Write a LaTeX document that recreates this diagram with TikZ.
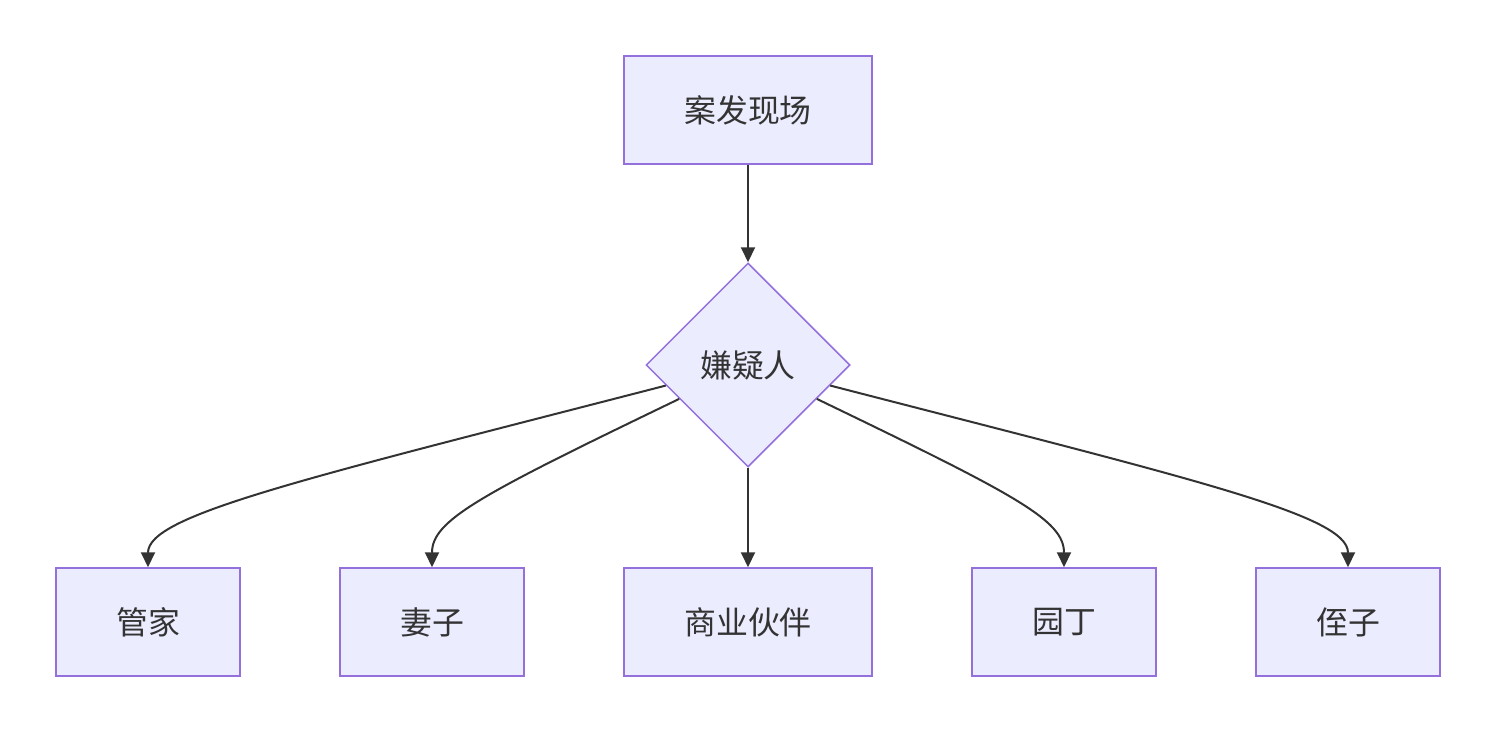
\documentclass[tikz,border=0pt]{standalone}
\usepackage{fontspec}
\newfontfamily\cjk{Noto Sans CJK SC}
\usetikzlibrary{shapes.geometric,arrows.meta,calc}
\definecolor{nodefill}{HTML}{ECECFF}
\definecolor{nodeline}{HTML}{9370DB}
\definecolor{edgecol}{HTML}{333333}
\begin{document}
\begin{tikzpicture}[x=1bp,y=-1bp,
  box/.style={draw=nodeline,fill=nodefill,line width=1.5bp,minimum height=108bp,inner sep=0pt,font=\cjk\fontsize{32}{38}\selectfont,text=edgecol},
  dia/.style={diamond,aspect=1,draw=nodeline,fill=nodefill,line width=1.5bp,minimum width=204bp,minimum height=204bp,inner sep=0pt,font=\cjk\fontsize{32}{38}\selectfont,text=edgecol},
  edge/.style={draw=edgecol,line width=2bp,-{Triangle[width=14bp,length=15bp]}}]
\useasboundingbox (0,0) rectangle (1496,731);
\node[box,minimum width=248bp] (scene) at (748,110) {案发现场};
\node[dia] (sus) at (748,365) {嫌疑人};
\node[box,minimum width=184bp] (butler) at (148,622) {管家};
\node[box,minimum width=184bp] (wife) at (432,622) {妻子};
\node[box,minimum width=248bp] (partner) at (748,622) {商业伙伴};
\node[box,minimum width=184bp] (gardener) at (1064,622) {园丁};
\node[box,minimum width=184bp] (nephew) at (1348,622) {侄子};
\coordinate (l1) at ($(sus.west)!0.2!(sus.south)$);
\coordinate (l2) at ($(sus.west)!0.33!(sus.south)$);
\coordinate (r1) at ($(sus.east)!0.2!(sus.south)$);
\coordinate (r2) at ($(sus.east)!0.33!(sus.south)$);
\draw[edge] (scene.south) -- (sus.north);
\draw[edge] (sus.south) -- (partner.north);
\draw[edge] (l1) .. controls (300,480) and (148,515) .. (butler.north);
\draw[edge] (l2) .. controls (480,495) and (432,520) .. (wife.north);
\draw[edge] (r1) .. controls (1196,480) and (1348,515) .. (nephew.north);
\draw[edge] (r2) .. controls (1016,495) and (1064,520) .. (gardener.north);
\end{tikzpicture}
\end{document}
